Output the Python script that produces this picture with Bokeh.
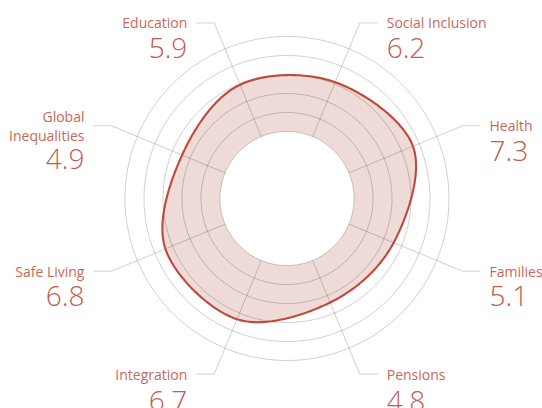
import numpy as np
from bokeh.plotting import figure
from bokeh.models import Range1d, ColumnDataSource
from bokeh.embed import file_html
from bokeh.resources import INLINE
from bokeh.core.properties import value

# ---- data ----
categories = ["Education", "Social Inclusion", "Health", "Families",
              "Pensions", "Integration", "Safe Living", "Global\nInequalities"]
scores = [5.9, 6.2, 7.3, 5.1, 4.8, 6.7, 6.8, 4.9]
grid_levels = [0, 2, 4, 6, 8, 10]
max_score = 10

# ---- layout (pixels) ----
W, H = 542, 408
CX, CY = 286.5, H - 198.0
R0, R1 = 67.0, 162.0
R_END = 190.0
HSEG = 18.0
GAP = 9.0
LABEL_COLOR = "#c7685a"
VALUE_COLOR = "#c0604f"
LABEL_FONT = "Open Sans"
VALUE_FONT = "Open Sans Light"

n = len(categories)
angles = np.deg2rad(112.5 - 45.0 * np.arange(n))


def rad(v):
    return R0 + (R1 - R0) * np.asarray(v, dtype=float) / max_score


r = rad(scores)
px = CX + r * np.cos(angles)
py = CY + r * np.sin(angles)


def catmull_closed(x, y, steps=40):
    N = len(x)
    ox, oy = [], []
    ts = np.linspace(0, 1, steps, endpoint=False)
    for i in range(N):
        i0, i1, i2, i3 = (i - 1) % N, i, (i + 1) % N, (i + 2) % N
        for arr, out in ((x, ox), (y, oy)):
            p0, p1, p2, p3 = arr[i0], arr[i1], arr[i2], arr[i3]
            out.extend(0.5 * (2 * p1 + (-p0 + p2) * ts
                              + (2 * p0 - 5 * p1 + 4 * p2 - p3) * ts ** 2
                              + (-p0 + 3 * p1 - 3 * p2 + p3) * ts ** 3))
    ox.append(ox[0]); oy.append(oy[0])
    return ox, oy


sx, sy = catmull_closed(px, py)

p = figure(width=W, height=H, x_range=Range1d(0, W), y_range=Range1d(0, H),
           x_axis_type=None, y_axis_type=None, output_backend="svg",
           toolbar_location=None, min_border=0)
p.grid.visible = False
p.outline_line_color = None
p.background_fill_color = "white"

# filled area
p.patch(sx, sy, fill_color="#eedad6", line_color=None)

# hole
th = np.linspace(0, 2 * np.pi, 241)
p.patch(CX + R0 * np.cos(th), CY + R0 * np.sin(th), fill_color="white", line_color=None)

# grid circles
gx = [list(CX + rad(g) * np.cos(th)) for g in grid_levels]
gy = [list(CY + rad(g) * np.sin(th)) for g in grid_levels]
p.multi_line(gx, gy, line_color="black", line_alpha=0.19, line_width=1)

# spokes with leader
lx, ly, tx, ty, align = [], [], [], [], []
for a in angles:
    ex, ey = CX + R_END * np.cos(a), CY + R_END * np.sin(a)
    sgn = 1 if np.cos(a) > 0 else -1
    lx.append([CX + R0 * np.cos(a), ex, ex + sgn * HSEG])
    ly.append([CY + R0 * np.sin(a), ey, ey])
    tx.append(ex + sgn * (HSEG + GAP))
    ty.append(ey)
    align.append("left" if sgn > 0 else "right")
p.multi_line(lx, ly, line_color="black", line_alpha=0.19, line_width=1)

# curve outline
p.line(sx, sy, line_color="#c0473a", line_width=2.1)

# labels
lab_x, lab_y, lab_t, lab_a = [], [], [], []
val_x, val_y, val_t, val_a = [], [], [], []
LS = 18.5
for i, c in enumerate(categories):
    lines = c.split("\n")
    k = len(lines)
    for j, ln in enumerate(lines):
        lab_x.append(tx[i]); lab_y.append(ty[i] + (k - 1) * LS / 2 - j * LS)
        lab_t.append(ln); lab_a.append(align[i])
    last = ty[i] - (k - 1) * LS / 2
    off = 24 if k > 1 else (27 if np.sin(angles[i]) < -0.5 else 25)
    val_x.append(tx[i]); val_y.append(last - off)
    val_t.append(f"{scores[i]:.1f}"); val_a.append(align[i])

p.text(x="x", y="y", text="t", text_align="a",
       source=ColumnDataSource(dict(x=lab_x, y=lab_y, t=lab_t, a=lab_a)),
       text_baseline="middle", text_font=value(LABEL_FONT), text_font_size="14px",
       text_color=LABEL_COLOR)
p.text(x="x", y="y", text="t", text_align="a",
       source=ColumnDataSource(dict(x=val_x, y=val_y, t=val_t, a=val_a)),
       text_baseline="middle", text_font=value(VALUE_FONT), text_font_size="28px",
       text_color=VALUE_COLOR)

open("out.html", "w").write(file_html(p, INLINE))
